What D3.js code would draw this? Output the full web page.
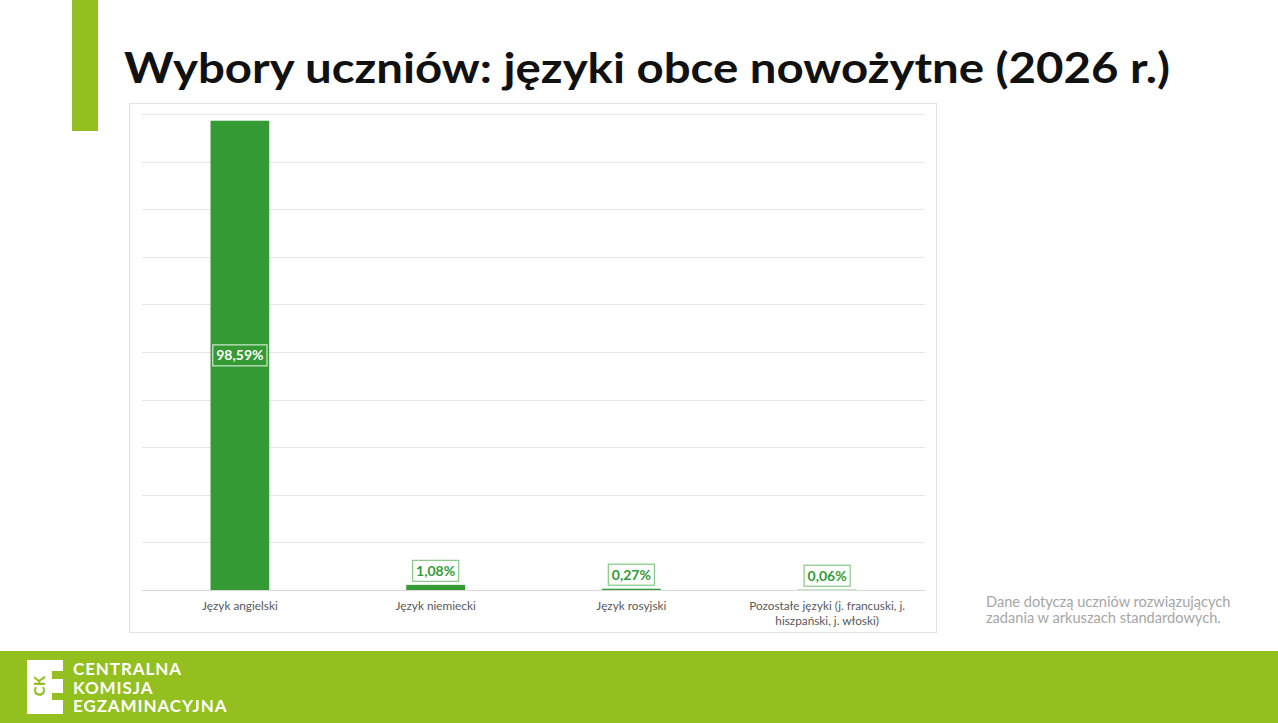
<!DOCTYPE html>
<html><head><meta charset="utf-8">
<script src="https://cdn.jsdelivr.net/npm/d3@7"></script>
<style>html,body{margin:0;padding:0;background:#fff;}svg{display:block;}</style>
</head><body>
<svg id="c" width="1278" height="723"></svg>
<script>
const categories = ["Język angielski", "Język niemiecki", "Język rosyjski", "Pozostałe języki (j. francuski, j. hiszpański, j. włoski)"];
const categoryLines = [["Język angielski"], ["Język niemiecki"], ["Język rosyjski"], ["Pozostałe języki (j. francuski, j.", "hiszpański, j. włoski)"]];
const values = [98.59, 1.08, 0.27, 0.06];
const valueLabels = ["98,59%", "1,08%", "0,27%", "0,06%"];
const yTicks = [0,10,20,30,40,50,60,70,80,90,100];

const svg = d3.select("#c");
const lime = "#93c01f", green = "#339a34";

// decorations
svg.append("rect").attr("x",72).attr("y",0).attr("width",26).attr("height",131).attr("fill",lime);
svg.append("text").attr("x",124).attr("y",83).attr("font-family","Lato").attr("font-weight",700)
  .attr("font-size",42).attr("fill","#111").text("Wybory uczniów: języki obce nowożytne (2026 r.)")
  .attr("textLength",1046).attr("lengthAdjust","spacingAndGlyphs");

// chart frame
svg.append("rect").attr("x",129.5).attr("y",103.5).attr("width",807).attr("height",529).attr("fill","#fff").attr("stroke","#e3e3e3");

const x = d3.scaleBand().domain(categories).range([142,925]).paddingInner(0.7).paddingOuter(0.35);
const y = d3.scaleLinear().domain([0,100]).range([590,114]);

const grid = svg.append("g");
grid.selectAll("line").data(yTicks).join("line")
  .attr("x1",142).attr("x2",925).attr("y1",d=>Math.round(y(d))+0.5).attr("y2",d=>Math.round(y(d))+0.5)
  .attr("stroke",d=>d===0?"#d9d9d9":"#e6e6e6").attr("stroke-width",1);

svg.selectAll("rect.bar").data(values).join("rect").attr("class","bar")
  .attr("x",(d,i)=>x(categories[i])).attr("width",x.bandwidth())
  .attr("y",d=>y(d)).attr("height",d=>y(0)-y(d)).attr("fill",green);

// value labels
values.forEach((v,i)=>{
  const cx = x(categories[i]) + x.bandwidth()/2;
  const inside = v > 50;
  const cy = inside ? (y(v)+y(0))/2 : y(v) - 14;
  const g = svg.append("g");
  const t = g.append("text").attr("x",cx).attr("y",cy+5).attr("text-anchor","middle")
    .attr("font-family","Lato").attr("font-size",14).attr("font-weight",700)
    .attr("fill",inside?"#fff":green).text(valueLabels[i]);
  const bb = t.node().getBBox();
  g.insert("rect","text").attr("x",bb.x-3.5).attr("y",cy-10.5).attr("width",bb.width+7).attr("height",21)
    .attr("fill",inside?green:"#fff").attr("stroke",inside?"#cfe8cf":"#86c986").attr("stroke-width",1.2);
});

// category labels
categoryLines.forEach((lines,i)=>{
  const cx = x(categories[i]) + x.bandwidth()/2;
  lines.forEach((l,j)=>{
    svg.append("text").attr("x",cx).attr("y",610+j*15).attr("text-anchor","middle")
      .attr("font-family","Lato").attr("font-size",11.8).attr("fill","#595959").text(l);
  });
});

// note
["Dane dotyczą uczniów rozwiązujących","zadania w arkuszach standardowych."].forEach((l,j)=>{
  svg.append("text").attr("x",986).attr("y",607+j*16).attr("font-family","Lato").attr("font-size",14.6)
    .attr("fill","#a6a6a6").text(l);
});

// footer
svg.append("rect").attr("x",0).attr("y",651).attr("width",1278).attr("height",72).attr("fill",lime);
// logo
const lg = svg.append("g");
lg.append("path").attr("fill","#fff").attr("d",
  "M27,660 H63 V671 H52 V679 H63 V693 H52 V700 H63 V714 H27 Z");
lg.append("text").attr("transform","translate(45,686) rotate(-90)").attr("text-anchor","middle")
  .attr("font-family","Lato").attr("font-weight",900).attr("font-size",15).attr("fill",lime).text("CK");
["CENTRALNA","KOMISJA","EGZAMINACYJNA"].forEach((l,j)=>{
  svg.append("text").attr("x",73).attr("y",675+j*18.5).attr("font-family","Lato").attr("font-weight",700)
    .attr("font-size",17).attr("letter-spacing",0.9).attr("fill","#fff").text(l);
});
</script>
</body></html>
